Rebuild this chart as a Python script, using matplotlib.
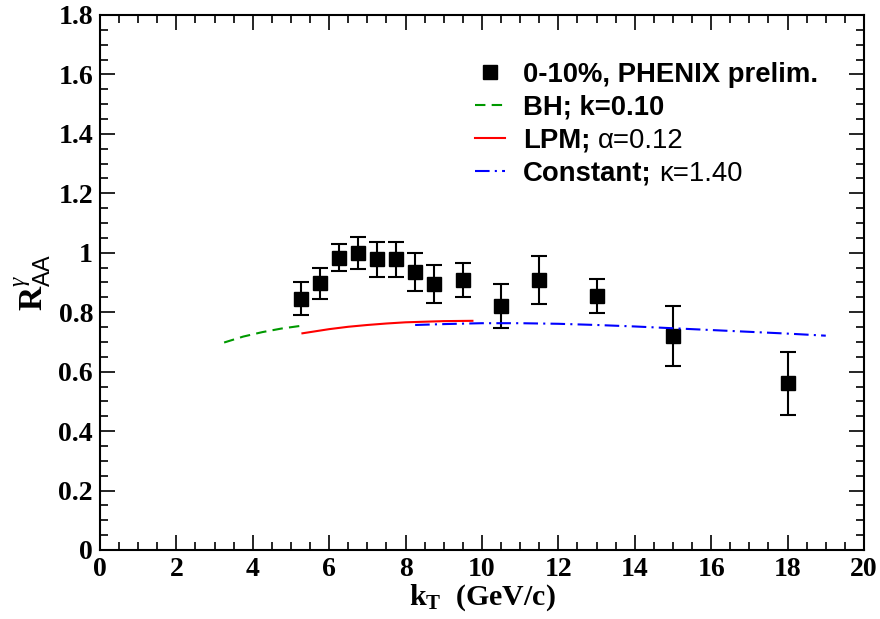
import numpy as np
import matplotlib
matplotlib.use("Agg")
import matplotlib.pyplot as plt
from matplotlib.ticker import MultipleLocator

plt.rcParams['font.family'] = ['Liberation Serif', 'DejaVu Serif']
plt.rcParams['mathtext.fontset'] = 'custom'
plt.rcParams['mathtext.rm'] = 'Liberation Serif'
plt.rcParams['mathtext.bf'] = 'Liberation Serif:bold'
plt.rcParams['mathtext.it'] = 'Liberation Serif:italic'
plt.rcParams['mathtext.sf'] = 'Liberation Sans'

# PHENIX preliminary, 0-10%
kt = [5.25, 5.75, 6.25, 6.75, 7.25, 7.75, 8.25, 8.75, 9.5, 10.5, 11.5, 13, 15, 18]
raa = [0.845, 0.897, 0.984, 1.000, 0.978, 0.978, 0.935, 0.894, 0.908,
       0.822, 0.908, 0.855, 0.721, 0.561]
raa_err = [0.055, 0.053, 0.047, 0.054, 0.058, 0.058, 0.064, 0.064, 0.058,
           0.074, 0.080, 0.058, 0.101, 0.106]

# model curves
bh_x = [3.25, 3.75, 4.25, 4.75, 5.25]
bh_y = [0.698, 0.718, 0.733, 0.745, 0.754]

lpm_x = [5.3, 6.0, 6.5, 7.0, 7.5, 8.0, 8.5, 9.0, 9.75]
lpm_y = [0.729, 0.743, 0.751, 0.757, 0.762, 0.766, 0.768, 0.770, 0.771]

const_x = [8.25, 9, 10, 11, 12, 13, 14, 15, 16, 17, 18, 19]
const_y = [0.757, 0.760, 0.763, 0.763, 0.761, 0.757, 0.752, 0.746, 0.740,
           0.734, 0.728, 0.721]

fig = plt.figure(figsize=(8.8, 6.19), dpi=100)
ax = fig.add_axes([0.1136, 0.1115, 0.8682, 0.8643])

ax.errorbar(kt, raa, yerr=raa_err, fmt='none', ecolor='black',
            elinewidth=1.5, capsize=5.5, capthick=1.5)
ax.plot(kt, raa, 's', color='black', markersize=9.5,
        label='0-10%, PHENIX prelim.')
ax.plot(bh_x, bh_y, color='#009900', lw=1.5, linestyle=(0, (5, 3)),
        label='BH; k=0.10')
ax.plot(lpm_x, lpm_y, color='red', lw=1.5, label='LPM;')
ax.plot(const_x, const_y, color='blue', lw=1.5,
        linestyle=(0, (7, 2.5, 1, 2.5)), label='Constant;')

ax.set_xlim(0, 20)
ax.set_ylim(0, 1.8)
ax.xaxis.set_major_locator(MultipleLocator(2))
ax.xaxis.set_minor_locator(MultipleLocator(0.5))
ax.yaxis.set_major_locator(MultipleLocator(0.2))
ax.yaxis.set_minor_locator(MultipleLocator(0.05))
ax.yaxis.set_major_formatter(plt.FuncFormatter(lambda v, p: '%g' % round(v, 2)))

ax.tick_params(which='both', direction='in', top=True, right=True, width=1.2)
ax.tick_params(which='major', length=11, labelsize=20, pad=5)
ax.tick_params(which='minor', length=6)
for lab in ax.get_xticklabels() + ax.get_yticklabels():
    lab.set_fontweight('bold')
for sp in ax.spines.values():
    sp.set_linewidth(1.5)

ax.set_xlabel(r'k$_\mathbf{T}$  (GeV/c)', fontsize=21.5, fontweight='bold', labelpad=0)
ax.set_ylabel(r'$\mathbf{R}^{\gamma}_{\mathsf{AA}}$', fontsize=24, labelpad=4)

leg = ax.legend(loc='upper left', bbox_to_anchor=(0.491, 0.912), frameon=False,
                prop={'family': 'Liberation Sans', 'weight': 'bold', 'size': 19.8},
                handlelength=1.1, handletextpad=0.65, labelspacing=0.25,
                borderpad=0, borderaxespad=0, numpoints=1)

texts = leg.get_texts()
for t, extra in [(texts[2], '\u03b1=0.12'), (texts[3], '\u03ba=1.40')]:
    ax.annotate(extra, xy=(1, 0), xycoords=t, xytext=(5, 0),
                textcoords='offset points', ha='left', va='bottom',
                family='Liberation Sans', fontsize=19.8, zorder=10)

fig.canvas.draw()
fig.savefig('out.png', dpi=100)
